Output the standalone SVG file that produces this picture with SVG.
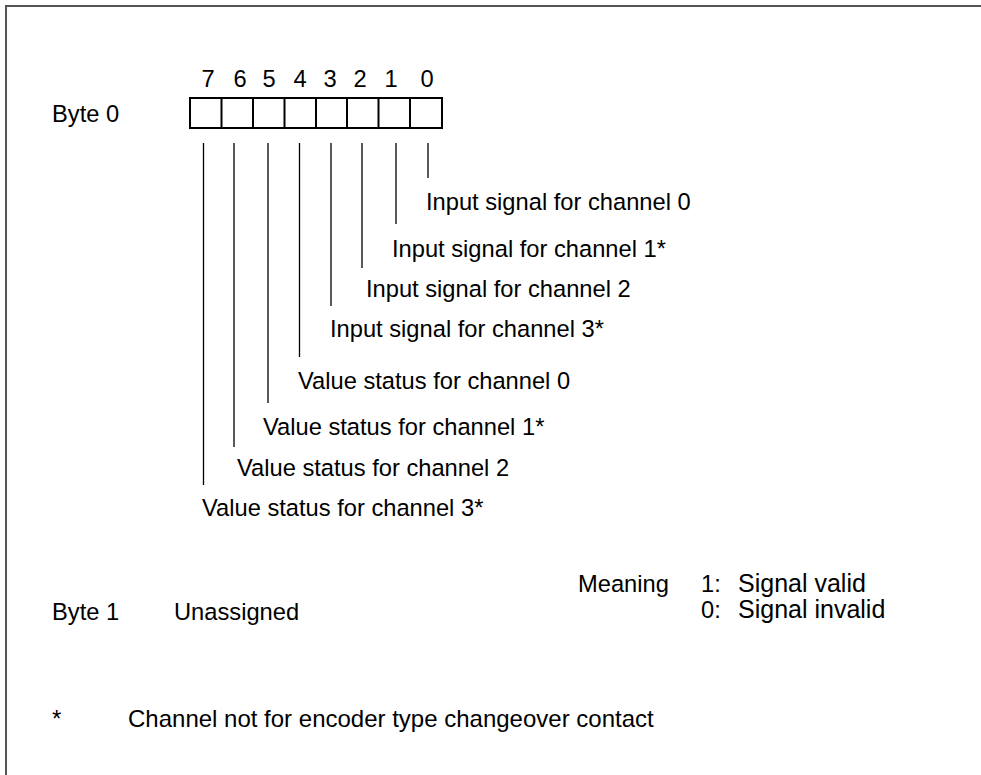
<svg xmlns="http://www.w3.org/2000/svg" width="981" height="775" viewBox="0 0 981 775">
<style>
text{font-family:"Liberation Sans",Arial,Helvetica,sans-serif;font-size:23.7px;fill:#000}
.num{text-anchor:middle}
.conn line{stroke:#000;stroke-width:1.3}
.cell{fill:#fff;stroke:#000;stroke-width:2}
.div{stroke:#000;stroke-width:2}
.sig{font-size:25px}
</style>
<rect width="981" height="775" fill="#fff"/>
<polyline points="6,775 6,6 981,6" fill="none" stroke="#555" stroke-width="2"/>
<g id="byte0">
<text x="52" y="122">Byte 0</text>
<g id="bitnums">
<text class="num" x="208" y="87">7</text>
<text class="num" x="240" y="87">6</text>
<text class="num" x="269" y="87">5</text>
<text class="num" x="300" y="87">4</text>
<text class="num" x="330" y="87">3</text>
<text class="num" x="360" y="87">2</text>
<text class="num" x="391" y="87">1</text>
<text class="num" x="427" y="87">0</text>
</g>
<g id="cells">
<rect class="cell" x="190" y="98" width="252" height="30"/>
<line class="div" x1="221.5" y1="98" x2="221.5" y2="128"/>
<line class="div" x1="253" y1="98" x2="253" y2="128"/>
<line class="div" x1="284.5" y1="98" x2="284.5" y2="128"/>
<line class="div" x1="316" y1="98" x2="316" y2="128"/>
<line class="div" x1="347" y1="98" x2="347" y2="128"/>
<line class="div" x1="378.5" y1="98" x2="378.5" y2="128"/>
<line class="div" x1="410" y1="98" x2="410" y2="128"/>
</g>
</g>
<g id="connectors" class="conn">
<line x1="428" y1="143" x2="428" y2="178"/>
<line x1="396" y1="143" x2="396" y2="224"/>
<line x1="362" y1="143" x2="362" y2="268"/>
<line x1="331" y1="143" x2="331" y2="306"/>
<line x1="299.5" y1="143" x2="299.5" y2="357"/>
<line x1="268" y1="143" x2="268" y2="403"/>
<line x1="234" y1="143" x2="234" y2="447"/>
<line x1="203.5" y1="143" x2="203.5" y2="485"/>
</g>
<g id="bit0"><text x="426" y="210">Input signal for channel 0</text></g>
<g id="bit1"><text x="392" y="257">Input signal for channel 1*</text></g>
<g id="bit2"><text x="366" y="297">Input signal for channel 2</text></g>
<g id="bit3"><text x="330" y="337">Input signal for channel 3*</text></g>
<g id="bit4"><text x="298" y="389">Value status for channel 0</text></g>
<g id="bit5"><text x="263" y="435">Value status for channel 1*</text></g>
<g id="bit6"><text x="237" y="476">Value status for channel 2</text></g>
<g id="bit7"><text x="202" y="516">Value status for channel 3*</text></g>
<g id="meaning">
<text x="578" y="592">Meaning</text>
<text x="701" y="592">1:</text>
<text class="sig" x="738" y="592">Signal valid</text>
<text x="701" y="618">0:</text>
<text class="sig" x="738" y="618">Signal invalid</text>
</g>
<g id="byte1">
<text x="52" y="620">Byte 1</text>
<text x="174" y="620">Unassigned</text>
</g>
<g id="footnote">
<text x="52" y="727" style="font-size:24px">*</text>
<text x="128" y="727" style="font-size:24px">Channel not for encoder type changeover contact</text>
</g>
</svg>
